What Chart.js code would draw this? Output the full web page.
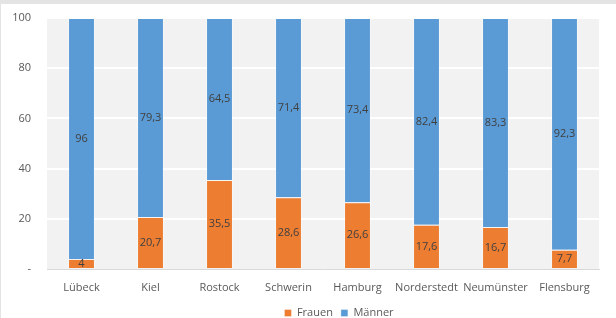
<!DOCTYPE html>
<html>
<head>
<meta charset="utf-8">
<script src="https://cdn.jsdelivr.net/npm/chart.js@4/dist/chart.umd.min.js"></script>
<style>
  html, body { margin: 0; padding: 0; background: #fff; }
  #wrap {
    width: 616px; height: 318px; box-sizing: border-box;
    border-top: 4px solid #e4e4e4; border-left: 1px solid #e4e4e4;
    position: relative;
  }
</style>
</head>
<body>
<div id="wrap"><canvas id="Bar"></canvas></div>
<script>
// Daten
var staedte = ["Lübeck", "Kiel", "Rostock", "Schwerin", "Hamburg", "Norderstedt", "Neumünster", "Flensburg"];
var frauen = [4, 20.7, 35.5, 28.6, 26.6, 17.6, 16.7, 7.7];
var maenner = [96, 79.3, 64.5, 71.4, 73.4, 82.4, 83.3, 92.3];
var yTicks = [0, 20, 40, 60, 80, 100];

const textColor = "#595959";
const fontFamily = "'Open Sans', 'Noto Sans', sans-serif";

// grauer Plotbereich
const plotBg = {
  id: "plotBg",
  beforeDraw(chart) {
    const a = chart.chartArea;
    const ctx = chart.ctx;
    ctx.save();
    ctx.fillStyle = "#f2f2f2";
    ctx.fillRect(a.left, a.top, a.right - a.left, a.bottom - a.top);
    ctx.restore();
  },
  afterLayout(chart) {
    // x-Beschriftung nicht abschneiden, Legende wie im Original platzieren
    chart.scales.x.bottom = chart.scales.x.top + 30;
    const lg = chart.legend;
    const h = lg.bottom - lg.top;
    lg.top = 295.5;
    lg.bottom = lg.top + h;
    lg.left += 39;
    lg.right += 39;
  }
};

// Werte in den Balken
const barLabels = {
  id: "barLabels",
  afterDatasetsDraw(chart) {
    const ctx = chart.ctx;
    ctx.save();
    ctx.font = "11px " + fontFamily;
    ctx.fillStyle = "#404040";
    ctx.textAlign = "center";
    ctx.textBaseline = "middle";
    chart.data.datasets.forEach((ds, i) => {
      const meta = chart.getDatasetMeta(i);
      meta.data.forEach((el, j) => {
        const txt = String(ds.data[j]).replace(".", ",");
        ctx.fillText(txt, el.x, (el.y + el.base) / 2);
      });
    });
    ctx.restore();
  }
};

var ctx = document.getElementById("Bar");
var Bar = new Chart(ctx, {
  type: "bar",
  data: {
    labels: staedte,
    datasets: [
      {
        label: "Frauen",
        data: frauen,
        backgroundColor: "#ed7d31",
        borderColor: "rgba(255,255,255,0.35)",
        borderWidth: 1,
        barPercentage: 0.39,
        categoryPercentage: 1,
      },
      {
        label: "Männer",
        data: maenner,
        backgroundColor: "#5b9bd5",
        borderColor: "rgba(255,255,255,0.35)",
        borderWidth: 1,
        barPercentage: 0.39,
        categoryPercentage: 1,
      },
    ],
  },
  options: {
    responsive: true,
    maintainAspectRatio: false,
    animation: false,
    layout: { padding: { top: 14, right: 17, left: 0, bottom: 0 } },
    scales: {
      x: {
        stacked: true,
        grid: { display: false, drawTicks: false },
        border: { color: "#d9d9d9" },
        ticks: { color: textColor, font: { family: fontFamily, size: 11 }, padding: 12, maxRotation: 0, autoSkip: false },
        afterFit: (s) => { s.height = 20; },
      },
      y: {
        stacked: true,
        min: 0,
        max: 100,
        border: { display: false },
        grid: {
          drawTicks: false,
          lineWidth: 2,
          color: (c) => (c.tick && c.tick.value === 0 ? "rgba(0,0,0,0)" : "#ffffff"),
        },
        afterBuildTicks: (s) => { s.ticks = yTicks.map((v) => ({ value: v })); },
        ticks: {
          color: textColor,
          font: { family: fontFamily, size: 11 },
          padding: 16,
          callback: (v) => (v === 0 ? "-" : v),
        },
        afterFit: (s) => {
          s.width = 46;
          s.paddingTop = 7;
          s.paddingBottom = 7;
        },
      },
    },
    plugins: {
      legend: {
        position: "bottom",
        labels: {
          color: textColor,
          font: { family: fontFamily, size: 11 },
          boxWidth: 7,
          boxHeight: 7,
          padding: 8,
        },
      },
      tooltip: { enabled: false },
    },
  },
  plugins: [plotBg, barLabels],
});
</script>
</body>
</html>
